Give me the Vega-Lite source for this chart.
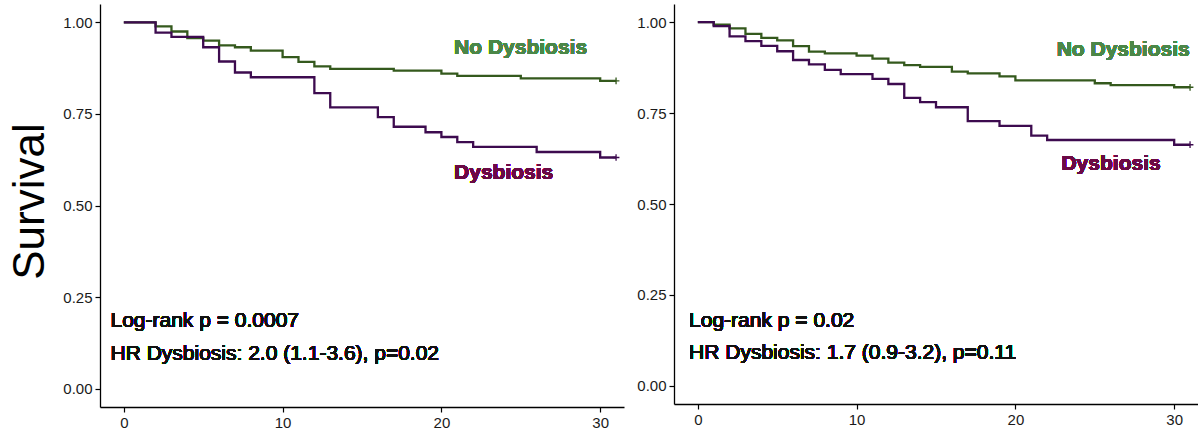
{
  "$schema": "https://vega.github.io/schema/vega-lite/v6.json",
  "description": "Kaplan-Meier survival curves, Dysbiosis vs No Dysbiosis, two cohorts.",
  "padding": {"left": 8, "top": 4, "right": 0, "bottom": 0},
  "spacing": 12,
  "datasets": {
    "left": [
      {"group": "No Dysbiosis", "t": 0, "s": 1.0},
      {"group": "No Dysbiosis", "t": 2, "s": 0.989},
      {"group": "No Dysbiosis", "t": 3, "s": 0.975},
      {"group": "No Dysbiosis", "t": 4, "s": 0.957},
      {"group": "No Dysbiosis", "t": 5, "s": 0.95},
      {"group": "No Dysbiosis", "t": 6, "s": 0.937},
      {"group": "No Dysbiosis", "t": 7, "s": 0.932},
      {"group": "No Dysbiosis", "t": 8, "s": 0.923},
      {"group": "No Dysbiosis", "t": 10, "s": 0.905},
      {"group": "No Dysbiosis", "t": 11, "s": 0.892},
      {"group": "No Dysbiosis", "t": 12, "s": 0.88},
      {"group": "No Dysbiosis", "t": 13, "s": 0.873},
      {"group": "No Dysbiosis", "t": 17, "s": 0.868},
      {"group": "No Dysbiosis", "t": 20, "s": 0.86},
      {"group": "No Dysbiosis", "t": 21, "s": 0.854},
      {"group": "No Dysbiosis", "t": 25, "s": 0.847},
      {"group": "No Dysbiosis", "t": 30, "s": 0.84},
      {"group": "No Dysbiosis", "t": 31, "s": 0.84},
      {"group": "Dysbiosis", "t": 0, "s": 1.0},
      {"group": "Dysbiosis", "t": 2, "s": 0.972},
      {"group": "Dysbiosis", "t": 3, "s": 0.96},
      {"group": "Dysbiosis", "t": 5, "s": 0.932},
      {"group": "Dysbiosis", "t": 6, "s": 0.893},
      {"group": "Dysbiosis", "t": 7, "s": 0.863},
      {"group": "Dysbiosis", "t": 8, "s": 0.85},
      {"group": "Dysbiosis", "t": 12, "s": 0.807},
      {"group": "Dysbiosis", "t": 13, "s": 0.768},
      {"group": "Dysbiosis", "t": 16, "s": 0.741},
      {"group": "Dysbiosis", "t": 17, "s": 0.715},
      {"group": "Dysbiosis", "t": 19, "s": 0.7},
      {"group": "Dysbiosis", "t": 20, "s": 0.687},
      {"group": "Dysbiosis", "t": 21, "s": 0.673},
      {"group": "Dysbiosis", "t": 22, "s": 0.66},
      {"group": "Dysbiosis", "t": 26, "s": 0.646},
      {"group": "Dysbiosis", "t": 30, "s": 0.631},
      {"group": "Dysbiosis", "t": 31, "s": 0.631}
    ],
    "right": [
      {"group": "No Dysbiosis", "t": 0, "s": 1.0},
      {"group": "No Dysbiosis", "t": 1, "s": 0.993},
      {"group": "No Dysbiosis", "t": 2, "s": 0.983},
      {"group": "No Dysbiosis", "t": 3, "s": 0.968},
      {"group": "No Dysbiosis", "t": 4, "s": 0.957},
      {"group": "No Dysbiosis", "t": 5, "s": 0.95},
      {"group": "No Dysbiosis", "t": 6, "s": 0.934},
      {"group": "No Dysbiosis", "t": 7, "s": 0.919},
      {"group": "No Dysbiosis", "t": 8, "s": 0.914},
      {"group": "No Dysbiosis", "t": 10, "s": 0.908},
      {"group": "No Dysbiosis", "t": 11, "s": 0.9},
      {"group": "No Dysbiosis", "t": 12, "s": 0.889},
      {"group": "No Dysbiosis", "t": 13, "s": 0.882},
      {"group": "No Dysbiosis", "t": 14, "s": 0.877},
      {"group": "No Dysbiosis", "t": 16, "s": 0.864},
      {"group": "No Dysbiosis", "t": 17, "s": 0.859},
      {"group": "No Dysbiosis", "t": 19, "s": 0.851},
      {"group": "No Dysbiosis", "t": 20, "s": 0.84},
      {"group": "No Dysbiosis", "t": 25, "s": 0.832},
      {"group": "No Dysbiosis", "t": 26, "s": 0.827},
      {"group": "No Dysbiosis", "t": 30, "s": 0.821},
      {"group": "No Dysbiosis", "t": 31, "s": 0.821},
      {"group": "Dysbiosis", "t": 0, "s": 1.0},
      {"group": "Dysbiosis", "t": 1, "s": 0.989},
      {"group": "Dysbiosis", "t": 2, "s": 0.961},
      {"group": "Dysbiosis", "t": 3, "s": 0.948},
      {"group": "Dysbiosis", "t": 4, "s": 0.935},
      {"group": "Dysbiosis", "t": 5, "s": 0.92},
      {"group": "Dysbiosis", "t": 6, "s": 0.896},
      {"group": "Dysbiosis", "t": 7, "s": 0.884},
      {"group": "Dysbiosis", "t": 8, "s": 0.869},
      {"group": "Dysbiosis", "t": 9, "s": 0.857},
      {"group": "Dysbiosis", "t": 11, "s": 0.844},
      {"group": "Dysbiosis", "t": 12, "s": 0.83},
      {"group": "Dysbiosis", "t": 13, "s": 0.792},
      {"group": "Dysbiosis", "t": 14, "s": 0.78},
      {"group": "Dysbiosis", "t": 15, "s": 0.766},
      {"group": "Dysbiosis", "t": 17, "s": 0.728},
      {"group": "Dysbiosis", "t": 19, "s": 0.715},
      {"group": "Dysbiosis", "t": 21, "s": 0.688},
      {"group": "Dysbiosis", "t": 22, "s": 0.676},
      {"group": "Dysbiosis", "t": 30, "s": 0.663},
      {"group": "Dysbiosis", "t": 31, "s": 0.663}
    ]
  },
  "hconcat": [
    {
      "width": 524,
      "height": 403,
      "data": {"name": "left"},
      "encoding": {
        "x": {
          "field": "t",
          "type": "quantitative",
          "scale": {"domain": [-1.5, 31.5], "nice": false, "zero": false},
          "axis": {"values": [0, 10, 20, 30], "title": null}
        },
        "y": {
          "field": "s",
          "type": "quantitative",
          "scale": {"domain": [-0.05, 1.05], "nice": false, "zero": false},
          "axis": {
            "values": [0, 0.25, 0.5, 0.75, 1],
            "format": ".2f",
            "title": "Survival",
            "titleFontSize": 44,
            "titleFontWeight": 300,
            "titleX": -57,
            "titleY": 197,
            "titleBaseline": "alphabetic"
          }
        }
      },
      "layer": [
        {
          "transform": [{"filter": "datum.group == 'No Dysbiosis'"}],
          "mark": {"type": "line", "interpolate": "step-after", "strokeWidth": 2.3, "color": "#34591d"}
        },
        {
          "transform": [{"filter": "datum.group == 'Dysbiosis'"}],
          "mark": {"type": "line", "interpolate": "step-after", "strokeWidth": 2.3, "color": "#3d0b4f"}
        },
        {
          "transform": [{"filter": "datum.t == 31"}],
          "mark": {"type": "point", "shape": "M-1,0L1,0M0,-1L0,1", "size": 45, "filled": false, "strokeWidth": 1.3, "opacity": 1},
          "encoding": {
            "color": {
              "field": "group",
              "type": "nominal",
              "scale": {"domain": ["No Dysbiosis", "Dysbiosis"], "range": ["#34591d", "#3d0b4f"]},
              "legend": null
            }
          }
        },
        {
          "mark": {"type": "text", "align": "left", "baseline": "middle", "fontSize": 21, "fontWeight": "bold", "color": "#4b8748"},
          "encoding": {"x": {"datum": 20.8}, "y": {"datum": 0.93}, "text": {"value": "No Dysbiosis"}}
        },
        {
          "mark": {"type": "text", "align": "left", "baseline": "middle", "fontSize": 21, "fontWeight": "bold", "color": "#6b0a45"},
          "encoding": {"x": {"datum": 20.8}, "y": {"datum": 0.588}, "text": {"value": "Dysbiosis"}}
        },
        {
          "mark": {"type": "text", "align": "left", "baseline": "middle", "fontSize": 21, "color": "#111"},
          "encoding": {"x": {"datum": -0.84}, "y": {"datum": 0.185}, "text": {"value": "Log-rank p = 0.0007"}}
        },
        {
          "mark": {"type": "text", "align": "left", "baseline": "middle", "fontSize": 21, "color": "#111"},
          "encoding": {"x": {"datum": -0.84}, "y": {"datum": 0.096}, "text": {"value": "HR Dysbiosis: 2.0 (1.1-3.6), p=0.02"}}
        }
      ]
    },
    {
      "width": 524,
      "height": 400,
      "data": {"name": "right"},
      "encoding": {
        "x": {
          "field": "t",
          "type": "quantitative",
          "scale": {"domain": [-1.5, 31.5], "nice": false, "zero": false},
          "axis": {"values": [0, 10, 20, 30], "title": null}
        },
        "y": {
          "field": "s",
          "type": "quantitative",
          "scale": {"domain": [-0.05, 1.05], "nice": false, "zero": false},
          "axis": {"values": [0, 0.25, 0.5, 0.75, 1], "format": ".2f", "title": null}
        }
      },
      "layer": [
        {
          "transform": [{"filter": "datum.group == 'No Dysbiosis'"}],
          "mark": {"type": "line", "interpolate": "step-after", "strokeWidth": 2.3, "color": "#34591d"}
        },
        {
          "transform": [{"filter": "datum.group == 'Dysbiosis'"}],
          "mark": {"type": "line", "interpolate": "step-after", "strokeWidth": 2.3, "color": "#3d0b4f"}
        },
        {
          "transform": [{"filter": "datum.t == 31"}],
          "mark": {"type": "point", "shape": "M-1,0L1,0M0,-1L0,1", "size": 45, "filled": false, "strokeWidth": 1.3, "opacity": 1},
          "encoding": {
            "color": {
              "field": "group",
              "type": "nominal",
              "scale": {"domain": ["No Dysbiosis", "Dysbiosis"], "range": ["#34591d", "#3d0b4f"]},
              "legend": null
            }
          }
        },
        {
          "mark": {"type": "text", "align": "left", "baseline": "middle", "fontSize": 21, "fontWeight": "bold", "color": "#4b8748"},
          "encoding": {"x": {"datum": 22.6}, "y": {"datum": 0.923}, "text": {"value": "No Dysbiosis"}}
        },
        {
          "mark": {"type": "text", "align": "left", "baseline": "middle", "fontSize": 21, "fontWeight": "bold", "color": "#6b0a45"},
          "encoding": {"x": {"datum": 22.9}, "y": {"datum": 0.611}, "text": {"value": "Dysbiosis"}}
        },
        {
          "mark": {"type": "text", "align": "left", "baseline": "middle", "fontSize": 21, "color": "#111"},
          "encoding": {"x": {"datum": -0.55}, "y": {"datum": 0.179}, "text": {"value": "Log-rank p = 0.02"}}
        },
        {
          "mark": {"type": "text", "align": "left", "baseline": "middle", "fontSize": 21, "color": "#111"},
          "encoding": {"x": {"datum": -0.55}, "y": {"datum": 0.09}, "text": {"value": "HR Dysbiosis: 1.7 (0.9-3.2), p=0.11"}}
        }
      ]
    }
  ],
  "config": {
    "view": {"stroke": null},
    "axis": {
      "grid": false,
      "domainColor": "#000",
      "domainWidth": 1.3,
      "tickColor": "#000",
      "tickWidth": 1.2,
      "tickSize": 5,
      "labelFont": "Liberation Sans",
      "labelFontSize": 15,
      "labelColor": "#1a1a1a",
      "labelPadding": 3,
      "titleFont": "Liberation Sans",
      "titleColor": "#000"
    },
    "text": {"font": "Liberation Sans"}
  }
}
